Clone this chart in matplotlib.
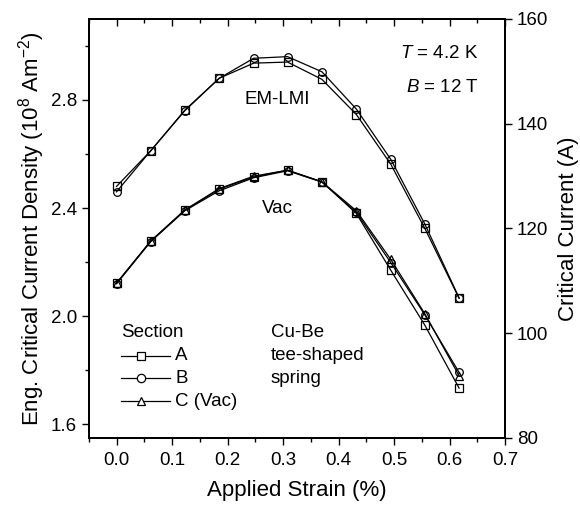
import matplotlib
matplotlib.use("Agg")
import matplotlib.pyplot as plt
from matplotlib.ticker import MultipleLocator

plt.rcParams['font.family'] = ['Liberation Sans', 'DejaVu Sans']
plt.rcParams['mathtext.fontset'] = 'custom'
plt.rcParams['mathtext.rm'] = 'Liberation Sans'
plt.rcParams['mathtext.it'] = 'Liberation Sans:italic'

strain = [0.0, 0.0617, 0.123, 0.185, 0.247, 0.308, 0.370, 0.432, 0.494, 0.555, 0.617]

em_A = [2.48, 2.612, 2.762, 2.880, 2.936, 2.940, 2.876, 2.746, 2.562, 2.326, 2.066]
em_B = [2.46, 2.612, 2.760, 2.880, 2.954, 2.960, 2.904, 2.766, 2.580, 2.342, 2.068]

vac_A = [2.122, 2.278, 2.392, 2.470, 2.515, 2.540, 2.497, 2.380, 2.170, 1.968, 1.734]
vac_B = [2.120, 2.276, 2.390, 2.464, 2.512, 2.538, 2.496, 2.384, 2.198, 2.006, 1.792]
vac_C = [2.122, 2.278, 2.393, 2.472, 2.518, 2.540, 2.497, 2.390, 2.210, 2.010, 1.780]

x_ticks = [0.0, 0.1, 0.2, 0.3, 0.4, 0.5, 0.6, 0.7]
left_ticks = [1.6, 2.0, 2.4, 2.8]
right_ticks = [80, 100, 120, 140, 160]

FS_TICK = 13.5
FS_LAB = 16
FS_TXT = 13.5

fig = plt.figure(figsize=(5.8, 5.08), dpi=100)
ax = fig.add_axes([0.153, 0.138, 0.718, 0.825])

mk = dict(color='black', lw=0.9, markerfacecolor='none', markeredgecolor='black',
          markersize=5.5, markeredgewidth=0.9)
ax.plot(strain, em_A, marker='s', **mk)
ax.plot(strain, em_B, marker='o', **mk)
ax.plot(strain, vac_A, marker='s', **mk)
ax.plot(strain, vac_B, marker='o', **mk)
ax.plot(strain, vac_C, marker='^', **mk)

ax.set_xlim(-0.05, 0.7)
ax.set_ylim(1.55, 3.1)
ax.set_xticks(x_ticks)
ax.set_xticklabels([f"{v:.1f}" for v in x_ticks])
ax.set_yticks(left_ticks)
ax.set_yticklabels([f"{v:.1f}" for v in left_ticks])
ax.xaxis.set_minor_locator(MultipleLocator(0.05))
ax.yaxis.set_minor_locator(MultipleLocator(0.2))

ax.tick_params(axis='x', which='both', direction='out', labelsize=FS_TICK, pad=5)
ax.tick_params(axis='x', which='major', length=5, width=1)
ax.tick_params(axis='x', which='minor', length=3, width=1)
ax.tick_params(axis='y', which='both', direction='out', right=False, labelsize=FS_TICK)
ax.tick_params(axis='y', which='major', length=5, width=1)
ax.tick_params(axis='y', which='minor', length=3, width=1)
for s in ax.spines.values():
    s.set_linewidth(1.4)

# top ticks pointing inward
axt = ax.secondary_xaxis('top')
axt.set_xticks(x_ticks)
axt.xaxis.set_minor_locator(MultipleLocator(0.05))
axt.tick_params(axis='x', which='both', direction='in', labeltop=False)
axt.tick_params(axis='x', which='major', length=5, width=1)
axt.tick_params(axis='x', which='minor', length=3, width=1)
axt.spines['top'].set_linewidth(1.4)

ax.set_xlabel("Applied Strain (%)", fontsize=FS_LAB, labelpad=8)
ax.set_ylabel("Eng. Critical Current Density (10$^8$ Am$^{-2}$)", fontsize=FS_LAB, labelpad=3)

ax2 = ax.twinx()
ax2.set_ylim(80, 160)
ax2.set_yticks(right_ticks)
ax2.set_yticklabels([str(v) for v in right_ticks])
ax2.tick_params(axis='y', which='both', direction='out', labelsize=FS_TICK)
ax2.tick_params(axis='y', which='major', length=5, width=1)
ax2.set_ylabel("Critical Current (A)", fontsize=FS_LAB, labelpad=7)
for s in ax2.spines.values():
    s.set_linewidth(1.4)

ax.text(0.289, 2.80, "EM-LMI", fontsize=FS_TXT, ha='center', va='center')
ax.text(0.29, 2.40, "Vac", fontsize=FS_TXT, ha='center', va='center')
ax.text(0.652, 2.97, "$T$ = 4.2 K", fontsize=FS_TXT, ha='right', va='center')
ax.text(0.652, 2.846, "$B$ = 12 T", fontsize=FS_TXT, ha='right', va='center')

ax.text(0.009, 1.939, "Section", fontsize=FS_TXT, ha='left', va='center')
leg_y = [1.853, 1.771, 1.686]
leg_labels = ["A", "B", "C (Vac)"]
leg_markers = ['s', 'o', '^']
for yy, lab, m in zip(leg_y, leg_labels, leg_markers):
    ax.plot([0.009, 0.096], [yy, yy], color='black', lw=0.9)
    ax.plot([0.045], [yy], marker=m, markersize=6, markerfacecolor='white',
            markeredgecolor='black', markeredgewidth=0.9, linestyle='none')
    ax.text(0.106, yy, lab, fontsize=FS_TXT, ha='left', va='center')

ax.text(0.278, 1.939, "Cu-Be", fontsize=FS_TXT, ha='left', va='center')
ax.text(0.278, 1.853, "tee-shaped", fontsize=FS_TXT, ha='left', va='center')
ax.text(0.278, 1.771, "spring", fontsize=FS_TXT, ha='left', va='center')

fig.savefig("out.png", dpi=100)
